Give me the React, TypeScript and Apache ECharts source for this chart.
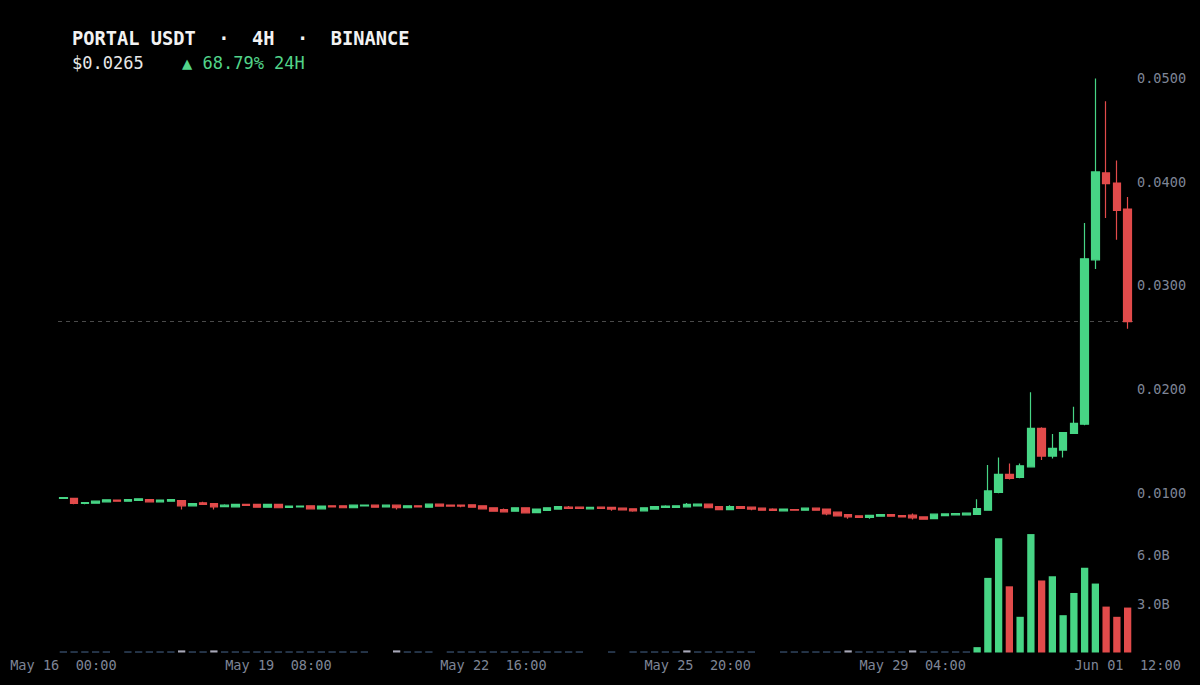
import React, { useEffect, useRef } from "react";
import * as echarts from "echarts";

const MONTHS = ["Jan", "Feb", "Mar", "Apr", "May", "Jun", "Jul", "Aug", "Sep", "Oct", "Nov", "Dec"];
const START_UTC = Date.UTC(2024, 4, 16, 0, 0);
const STEP_MS = 4 * 3600 * 1000;
const LABEL_INDICES = [0, 20, 40, 59, 79, 99];

const TITLE = "PORTAL USDT  ·  4H  ·  BINANCE";
const LAST_PRICE_TEXT = "$0.0265";
const CHANGE_TEXT = "▲ 68.79% 24H";
const LAST_PRICE = 0.0265;

const PRICE_TICKS = [0.01, 0.02, 0.03, 0.04, 0.05];
const VOLUME_TICKS = [3, 6];

// [open, close, low, high]
const candles: number[][] = [
  [0.00944, 0.00953, 0.00941, 0.00955],
  [0.00944, 0.00895, 0.00889, 0.00947],
  [0.00895, 0.00905, 0.00889, 0.00907],
  [0.00898, 0.00918, 0.00895, 0.0092],
  [0.00911, 0.00931, 0.00908, 0.00934],
  [0.00928, 0.00918, 0.00915, 0.0093],
  [0.00918, 0.00934, 0.00915, 0.00937],
  [0.00924, 0.0094, 0.00921, 0.00943],
  [0.00934, 0.00911, 0.00908, 0.00936],
  [0.00911, 0.00928, 0.00908, 0.0093],
  [0.00918, 0.00934, 0.00915, 0.00937],
  [0.00924, 0.00873, 0.00837, 0.00927],
  [0.00873, 0.00895, 0.0087, 0.00898],
  [0.00902, 0.00886, 0.00883, 0.00911],
  [0.00895, 0.00863, 0.00837, 0.00898],
  [0.00866, 0.00879, 0.00863, 0.00889],
  [0.00863, 0.00886, 0.0086, 0.00889],
  [0.00886, 0.00876, 0.00873, 0.00889],
  [0.00886, 0.0086, 0.00857, 0.00889],
  [0.0086, 0.00886, 0.00857, 0.00889],
  [0.00886, 0.00854, 0.00851, 0.00889],
  [0.00857, 0.0087, 0.00854, 0.00873],
  [0.00863, 0.0087, 0.0086, 0.00873],
  [0.00873, 0.00844, 0.00841, 0.00876],
  [0.00844, 0.0087, 0.00841, 0.00873],
  [0.00873, 0.00863, 0.0086, 0.00876],
  [0.00873, 0.00854, 0.00851, 0.00876],
  [0.00854, 0.00879, 0.00851, 0.00882],
  [0.00873, 0.00879, 0.0087, 0.00882],
  [0.00879, 0.0086, 0.00857, 0.00882],
  [0.00863, 0.00879, 0.0086, 0.00882],
  [0.00879, 0.00854, 0.00837, 0.00882],
  [0.00854, 0.00873, 0.00851, 0.00876],
  [0.00873, 0.00863, 0.0086, 0.00876],
  [0.0086, 0.00889, 0.00857, 0.00892],
  [0.00889, 0.0087, 0.00867, 0.00892],
  [0.00879, 0.0087, 0.00867, 0.00882],
  [0.00879, 0.0087, 0.0086, 0.00882],
  [0.00882, 0.0086, 0.00857, 0.00885],
  [0.00873, 0.00844, 0.00841, 0.00876],
  [0.00854, 0.00821, 0.00818, 0.00857],
  [0.00837, 0.00815, 0.00812, 0.00847],
  [0.00821, 0.00854, 0.00818, 0.00857],
  [0.00854, 0.00805, 0.00802, 0.00857],
  [0.00808, 0.00841, 0.00805, 0.00844],
  [0.00828, 0.00854, 0.00825, 0.0086],
  [0.00841, 0.00866, 0.00838, 0.00869],
  [0.0086, 0.00847, 0.00844, 0.0087],
  [0.0086, 0.00847, 0.00844, 0.00863],
  [0.00844, 0.00857, 0.00841, 0.0086],
  [0.0086, 0.00847, 0.00844, 0.00863],
  [0.00857, 0.00841, 0.00825, 0.0086],
  [0.0085, 0.00834, 0.00831, 0.00853],
  [0.00844, 0.00825, 0.00815, 0.00847],
  [0.00825, 0.00854, 0.00822, 0.00857],
  [0.00841, 0.00866, 0.00838, 0.00869],
  [0.00857, 0.0087, 0.00854, 0.00879],
  [0.00857, 0.00873, 0.00854, 0.00876],
  [0.00863, 0.00886, 0.0086, 0.00899],
  [0.00873, 0.00889, 0.0087, 0.00892],
  [0.00889, 0.00854, 0.00851, 0.00892],
  [0.00866, 0.00837, 0.00834, 0.00869],
  [0.00837, 0.00866, 0.00834, 0.00879],
  [0.00866, 0.00847, 0.00844, 0.00869],
  [0.0086, 0.00841, 0.00831, 0.00863],
  [0.0085, 0.00831, 0.00828, 0.00853],
  [0.00841, 0.00828, 0.00825, 0.0085],
  [0.00825, 0.00841, 0.00822, 0.00844],
  [0.00837, 0.00831, 0.00828, 0.0084],
  [0.00831, 0.0085, 0.00828, 0.00853],
  [0.0085, 0.00831, 0.00828, 0.00853],
  [0.00841, 0.00796, 0.00783, 0.00844],
  [0.00812, 0.00776, 0.00773, 0.00815],
  [0.00789, 0.00767, 0.00747, 0.00792],
  [0.00776, 0.0076, 0.00757, 0.00779],
  [0.00762, 0.0078, 0.00747, 0.00783],
  [0.00772, 0.00789, 0.00769, 0.00792],
  [0.00789, 0.00773, 0.0077, 0.00792],
  [0.00779, 0.00766, 0.00763, 0.00782],
  [0.00783, 0.00757, 0.00741, 0.00799],
  [0.00766, 0.00744, 0.00741, 0.00769],
  [0.0075, 0.00792, 0.00747, 0.00795],
  [0.00779, 0.00795, 0.00776, 0.00798],
  [0.00786, 0.00799, 0.00783, 0.00802],
  [0.00786, 0.00802, 0.00783, 0.00805],
  [0.0079, 0.00845, 0.00785, 0.00937],
  [0.00831, 0.01017, 0.00825, 0.01266],
  [0.01002, 0.01176, 0.00995, 0.0134],
  [0.01176, 0.01137, 0.01127, 0.01282],
  [0.01147, 0.01259, 0.0114, 0.0128],
  [0.01249, 0.0162, 0.01245, 0.01968],
  [0.0162, 0.01353, 0.01314, 0.01632],
  [0.01353, 0.01427, 0.0133, 0.01565],
  [0.01411, 0.01578, 0.0134, 0.0158],
  [0.01572, 0.01669, 0.0157, 0.01829],
  [0.0166, 0.03256, 0.0165, 0.036],
  [0.03246, 0.04094, 0.03157, 0.04995],
  [0.04084, 0.03981, 0.03649, 0.04776],
  [0.03987, 0.03723, 0.0344, 0.04203],
  [0.03736, 0.0265, 0.0258, 0.03852],
];

// volume in billions
const volumes: number[] = [
  0.06, 0.06, 0.06, 0.06, 0.06, 0, 0.06, 0.06, 0.06, 0.06,
  0.06, 0.13, 0.06, 0.06, 0.13, 0.06, 0.06, 0.06, 0.06, 0.06,
  0.06, 0.06, 0.06, 0.06, 0.06, 0.06, 0.06, 0.06, 0.06, 0,
  0, 0.13, 0.06, 0.06, 0.06, 0, 0.06, 0.06, 0.06, 0.06,
  0.06, 0.06, 0.06, 0.06, 0.06, 0.06, 0.06, 0.06, 0.06, 0,
  0, 0.06, 0, 0.06, 0.06, 0.06, 0.06, 0.06, 0.13, 0.06,
  0.06, 0.06, 0.06, 0.06, 0.06, 0, 0, 0.06, 0.06, 0.06,
  0.06, 0.06, 0.06, 0.13, 0.06, 0.06, 0.06, 0.06, 0.06, 0.13,
  0.06, 0.06, 0.06, 0.06, 0.06, 0.33, 4.6, 7.04, 4.08, 2.2,
  7.3, 4.44, 4.7, 2.3, 3.67, 5.23, 4.25, 2.83, 2.2, 2.77,
];

const UP = "#47d585";
const DOWN = "#e24b4b";
const AXIS_TEXT = "#7e8596";
const FONT = '"DejaVu Sans Mono", monospace';

function pad2(n: number) {
  return n < 10 ? "0" + n : String(n);
}

const categories: string[] = candles.map((_, i) => {
  const d = new Date(START_UTC + i * STEP_MS);
  return `${MONTHS[d.getUTCMonth()]} ${pad2(d.getUTCDate())}  ${pad2(d.getUTCHours())}:${pad2(d.getUTCMinutes())}`;
});

function volumeColor(i: number) {
  const v = volumes[i];
  if (v < 0.1) return "#4a6890";
  if (v < 0.2) return "#a8a8b8";
  return candles[i][1] >= candles[i][0] ? UP : DOWN;
}

export default function App() {
  const ref = useRef<HTMLDivElement>(null);

  useEffect(() => {
    document.body.style.margin = "0";
    document.body.style.background = "#000";
    const chart = echarts.init(ref.current!, undefined, { renderer: "svg" });
    chart.setOption({
      animation: false,
      backgroundColor: "#000000",
      graphic: [
        {
          type: "text",
          x: 72,
          y: 38.5,
          style: {
            text: TITLE,
            font: `bold 18.7px ${FONT}`,
            fill: "#f2f2f2",
            verticalAlign: "middle",
          },
        },
        {
          type: "text",
          x: 72,
          y: 62.5,
          style: {
            text: LAST_PRICE_TEXT,
            font: `17px ${FONT}`,
            fill: "#e8e8e8",
            verticalAlign: "middle",
          },
        },
        {
          type: "text",
          x: 182,
          y: 62.5,
          style: {
            text: CHANGE_TEXT,
            font: `17px ${FONT}`,
            fill: "#52d48a",
            verticalAlign: "middle",
          },
        },
      ],
      grid: [
        { left: 58, right: 67, top: 78, height: 518.3 },
        { left: 58, right: 67, top: 506.5, height: 146 },
      ],
      xAxis: [
        {
          type: "category",
          gridIndex: 0,
          data: categories,
          boundaryGap: true,
          axisLine: { show: false },
          axisTick: { show: false },
          axisLabel: { show: false },
          splitLine: { show: false },
        },
        {
          type: "category",
          gridIndex: 1,
          data: categories,
          boundaryGap: true,
          axisLine: { show: false },
          axisTick: { show: false },
          splitLine: { show: false },
          axisLabel: {
            interval: (index: number) => LABEL_INDICES.indexOf(index) >= 0,
            color: AXIS_TEXT,
            fontFamily: FONT,
            fontSize: 13.6,
            margin: 5,
            hideOverlap: false,
          },
        },
      ],
      yAxis: [
        {
          type: "value",
          gridIndex: 0,
          position: "right",
          min: 0,
          max: 0.05,
          interval: 0.01,
          axisLine: { show: false },
          axisTick: { show: false },
          splitLine: { show: false },
          axisLabel: {
            color: AXIS_TEXT,
            fontFamily: FONT,
            fontSize: 13.6,
            margin: 4,
            formatter: (v: number) =>
              PRICE_TICKS.some((t) => Math.abs(t - v) < 1e-9) ? v.toFixed(4) : "",
          },
        },
        {
          type: "value",
          gridIndex: 1,
          position: "right",
          min: 0,
          max: 9,
          interval: 3,
          axisLine: { show: false },
          axisTick: { show: false },
          splitLine: { show: false },
          axisLabel: {
            color: AXIS_TEXT,
            fontFamily: FONT,
            fontSize: 13.6,
            margin: 4,
            formatter: (v: number) =>
              VOLUME_TICKS.some((t) => Math.abs(t - v) < 1e-9) ? v.toFixed(1) + "B" : "",
          },
        },
      ],
      series: [
        {
          type: "line",
          xAxisIndex: 0,
          yAxisIndex: 0,
          data: [],
          z: 1,
          silent: true,
          markLine: {
            silent: true,
            z: 1,
            precision: 6,
            symbol: ["none", "none"],
            label: { show: false },
            lineStyle: { color: "#4a4a4a", type: [4, 4], width: 1 },
            data: [{ yAxis: LAST_PRICE }],
          },
        },
        {
          type: "candlestick",
          xAxisIndex: 0,
          yAxisIndex: 0,
          data: candles,
          barWidth: "74%",
          z: 3,
          itemStyle: {
            color: UP,
            color0: DOWN,
            borderColor: UP,
            borderColor0: DOWN,
            borderWidth: 1.2,
          },
        },
        {
          type: "bar",
          xAxisIndex: 1,
          yAxisIndex: 1,
          barWidth: "68%",
          data: volumes.map((v, i) => ({
            value: v,
            itemStyle: { color: volumeColor(i) },
          })),
        },
      ],
    });
    return () => chart.dispose();
  }, []);

  return (
    <div
      ref={ref}
      style={{ position: "fixed", left: 0, top: 0, width: 1200, height: 685, background: "#000" }}
    />
  );
}
